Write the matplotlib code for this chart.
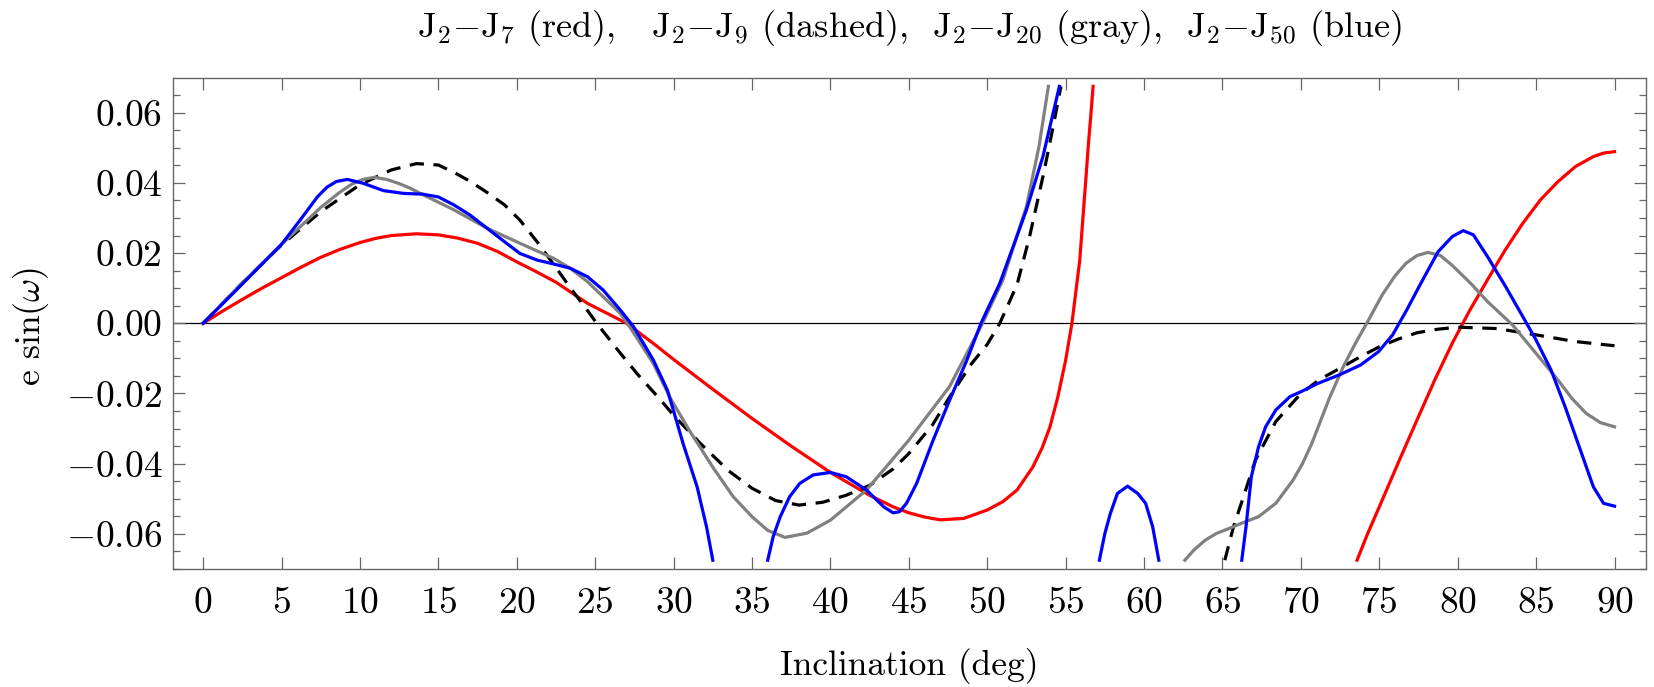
import numpy as np
import matplotlib
matplotlib.use("Agg")
import matplotlib.pyplot as plt
from matplotlib.ticker import MultipleLocator, FuncFormatter

plt.rcParams['font.family'] = 'cmr10'
plt.rcParams['mathtext.fontset'] = 'cm'
plt.rcParams['axes.formatter.use_mathtext'] = True

# J2-J7 (red), two branches
red1_x = [0, 1.25, 2.5, 3.75, 5, 6.25, 7.5, 8.75, 10, 11, 12, 13.6, 15, 16.2, 17.5, 18.8, 20, 21.2, 22.5,
          24.5, 27, 28.7, 30, 32.5, 35, 37.5, 40, 42.5, 44, 45, 46, 47, 48.5, 50, 51, 51.9, 52.9, 53.5,
          54, 54.5, 55, 55.4, 55.65, 55.9, 56.1, 56.3, 56.45, 56.6, 56.75]
red1_y = [0, 0.0035, 0.0068, 0.0100, 0.0130, 0.0160, 0.0188, 0.0211, 0.0230, 0.0242, 0.0250, 0.0255,
          0.0252, 0.0243, 0.0228, 0.0204, 0.0175, 0.0148, 0.0117, 0.0057, 0.0, -0.0057, -0.0103, -0.0188,
          -0.0271, -0.0350, -0.0425, -0.0490, -0.0523, -0.0540, -0.0552, -0.0560, -0.0556, -0.0532,
          -0.0508, -0.0475, -0.0410, -0.0355, -0.0295, -0.0210, -0.0105, 0.0, 0.0090, 0.0180, 0.0300,
          0.0418, 0.0510, 0.0590, 0.0675]
red2_x = [73.58, 74.26, 75.0, 76.28, 77.4, 78.53, 79.65, 80.78, 81.9, 83.03, 84.15, 85.28, 86.4, 87.52,
          88.65, 89.3, 90]
red2_y = [-0.0675, -0.0599, -0.0523, -0.0390, -0.0276, -0.0162, -0.0057, 0.0038, 0.0124, 0.0209, 0.0285,
          0.0352, 0.0404, 0.0447, 0.0475, 0.0485, 0.0489]

# J2-J9 (dashed)
blk1_x = [0, 2.5, 5, 7.5, 10, 12, 13.6, 15, 16, 17, 18.1, 19.2, 20.2, 21.3, 22.4, 23.4, 24.5, 25.1,
          26.6, 27.7, 29.2, 30, 31.7, 33.5, 35, 36.5, 38, 39.5, 41, 42.5, 44, 45, 46.5, 47.6, 49, 50,
          50.8, 51.9, 52.7, 53.6, 54.2, 54.7]
blk1_y = [0, 0.0115, 0.0223, 0.0318, 0.0395, 0.0437, 0.0455, 0.0451, 0.0430, 0.0405, 0.0373, 0.0338,
          0.0294, 0.0232, 0.0165, 0.0102, 0.0037, 0.0, -0.0085, -0.0145, -0.0220, -0.0262, -0.0342,
          -0.0420, -0.0470, -0.0505, -0.0518, -0.0510, -0.0490, -0.0462, -0.0415, -0.0371, -0.0290,
          -0.0210, -0.0115, -0.0060, 0.0, 0.0110, 0.0247, 0.0428, 0.0560, 0.0675]
blk2_x = [65.15, 65.7, 66.2, 67.1, 68.4, 70, 71.2, 72.5, 73.8, 75, 76.2, 77.4, 78.7, 80, 82.5, 85,
          87.5, 90]
blk2_y = [-0.0675, -0.0580, -0.0513, -0.0390, -0.0280, -0.0200, -0.0160, -0.0128, -0.0095, -0.0067,
          -0.0045, -0.0027, -0.0017, -0.0011, -0.0015, -0.0033, -0.0052, -0.0064]

# J2-J20 (gray)
gry1_x = [0, 2.5, 5, 7.5, 8.7, 9.5, 10.2, 10.9, 11.7, 12.5, 13.2, 13.85, 16, 18.1, 20.2, 22.35, 23.4,
          24.5, 25.5, 26.6, 27.2, 28.7, 29.8, 31, 32.5, 33.8, 35, 36, 37.1, 38.5, 40, 42.3, 45, 47.6,
          49.7, 51, 52.5, 53.3, 53.9]
gry1_y = [0, 0.0115, 0.0225, 0.0330, 0.0373, 0.0397, 0.0410, 0.0416, 0.0410, 0.0398, 0.0385, 0.0370,
          0.0323, 0.0271, 0.0228, 0.0185, 0.0157, 0.0119, 0.0076, 0.0028, -0.0010, -0.0114, -0.0214,
          -0.0305, -0.0410, -0.0494, -0.0551, -0.0590, -0.0610, -0.0598, -0.0561, -0.0475, -0.0333,
          -0.0180, 0.0, 0.0124, 0.0333, 0.0504, 0.0675]
gry2_x = [62.6, 63.2, 63.9, 64.6, 65.4, 66.2, 67.3, 68.4, 69.5, 70.1, 70.7, 71.8, 72.7, 73.5, 74.2,
          75.2, 76.0, 76.7, 77.4, 78.1, 78.9, 79.65, 80.8, 81.9, 83.5, 85, 86.4, 87.3, 88.2, 89.1, 90]
gry2_y = [-0.0675, -0.0645, -0.0618, -0.0599, -0.0585, -0.0570, -0.0551, -0.0513, -0.0447, -0.0400,
          -0.0342, -0.0215, -0.0124, -0.0055, 0.0, 0.0082, 0.0135, 0.0171, 0.0193, 0.0202, 0.0193,
          0.0165, 0.0115, 0.0062, -0.0005, -0.0086, -0.0162, -0.0215, -0.0257, -0.0283, -0.0295]

# J2-J50 (blue), four branches
blu1_x = [0, 2.5, 5, 6.2, 7.3, 7.9, 8.5, 9.2, 10.2, 11.5, 12.8, 14.0, 15.0, 16, 17, 18.1, 19.2, 20.2,
          21.3, 22.35, 23.4, 24.5, 25.5, 26.6, 27.45, 28.7, 29.6, 30.0, 30.6, 31.5, 32.1, 32.5]
blu1_y = [0, 0.0112, 0.0225, 0.0295, 0.0361, 0.0388, 0.0404, 0.0410, 0.0399, 0.0378, 0.0370, 0.0368,
          0.0360, 0.0337, 0.0309, 0.0271, 0.0233, 0.0199, 0.0180, 0.0169, 0.0157, 0.0133, 0.0095, 0.0038,
          -0.0010, -0.0104, -0.0190, -0.0250, -0.0342, -0.0466, -0.0580, -0.0675]
blu2_x = [36.0, 36.35, 36.8, 37.4, 38.05, 38.9, 40.0, 41.0, 42.3, 43.4, 44.0, 44.4, 44.85, 45.5, 46.55,
          47.6, 48.7, 49.6, 50.8, 52.5, 53.55, 54.6]
blu2_y = [-0.0675, -0.0608, -0.0551, -0.0494, -0.0456, -0.0432, -0.0425, -0.0437, -0.0475, -0.0523,
          -0.0540, -0.0537, -0.0513, -0.0456, -0.0333, -0.0219, -0.0105, 0.0, 0.0114, 0.0323, 0.0475, 0.0675]
blu3_x = [57.15, 57.5, 57.85, 58.3, 58.95, 59.6, 60.1, 60.55, 60.94]
blu3_y = [-0.0675, -0.0599, -0.0542, -0.0485, -0.0464, -0.0485, -0.0513, -0.0580, -0.0675]
blu4_x = [66.23, 66.5, 66.84, 67.3, 67.75, 68.4, 69.3, 70.0, 71.1, 72.45, 73.8, 74.95, 75.85, 76.75,
          77.65, 78.75, 79.65, 80.35, 81.0, 81.9, 83.05, 84.15, 85.0, 85.95, 86.85, 87.75, 88.65, 89.3, 90]
blu4_y = [-0.0675, -0.0580, -0.0437, -0.0352, -0.0295, -0.0247, -0.0209, -0.0195, -0.0171, -0.0147,
          -0.0119, -0.0081, -0.0033, 0.0038, 0.0114, 0.0204, 0.0247, 0.0264, 0.0252, 0.0190, 0.0105,
          0.0019, -0.0048, -0.0133, -0.0238, -0.0352, -0.0466, -0.0513, -0.0521]

x_ticks = np.arange(0, 91, 5)
y_ticks = [-0.06, -0.04, -0.02, 0.0, 0.02, 0.04, 0.06]

fig = plt.figure(figsize=(16.54, 6.87), dpi=100)
ax = fig.add_axes([0.1048, 0.1718, 0.8903, 0.7142])

lw = 2.3
ax.axhline(0, color='black', lw=0.9, zorder=1)
for xs, ys in [(red1_x, red1_y), (red2_x, red2_y)]:
    ax.plot(xs, ys, color='#ff0000', lw=lw, zorder=2, solid_joinstyle='round')
for xs, ys in [(blk1_x, blk1_y), (blk2_x, blk2_y)]:
    ax.plot(xs, ys, color='black', lw=lw, dashes=(4.5, 3), zorder=3)
for xs, ys in [(gry1_x, gry1_y), (gry2_x, gry2_y)]:
    ax.plot(xs, ys, color='#808080', lw=lw, zorder=4, solid_joinstyle='round')
for xs, ys in [(blu1_x, blu1_y), (blu2_x, blu2_y), (blu3_x, blu3_y), (blu4_x, blu4_y)]:
    ax.plot(xs, ys, color='#0000ff', lw=lw, zorder=5, solid_joinstyle='round')

ax.set_xlim(-1.9, 92)
ax.set_ylim(-0.07, 0.0698)
ax.set_xticks(x_ticks)
ax.set_yticks(y_ticks)
ax.yaxis.set_minor_locator(MultipleLocator(0.005))
ax.xaxis.set_major_formatter(FuncFormatter(lambda v, p: f'${v:.0f}$'))
ax.yaxis.set_major_formatter(FuncFormatter(lambda v, p: f'${v:.2f}$'.replace('-0.00', '0.00')))

for s in ax.spines.values():
    s.set_color('#666666')
    s.set_linewidth(1.0)
ax.tick_params(which='both', direction='in', top=True, right=True, color='#666666', width=0.9)
ax.tick_params(which='major', length=8.6)
ax.tick_params(which='minor', length=5)
ax.tick_params(axis='x', labelsize=27, pad=13)
ax.tick_params(axis='y', labelsize=27, pad=8)

title = (r'$\mathrm{J}_2{-}\mathrm{J}_7$ (red),   $\mathrm{J}_2{-}\mathrm{J}_9$ (dashed),  '
         r'$\mathrm{J}_2{-}\mathrm{J}_{20}$ (gray),  $\mathrm{J}_2{-}\mathrm{J}_{50}$ (blue)')
fig.text(0.55, 0.9457, title, ha='center', va='baseline', fontsize=26)
fig.text(0.55, 0.0175, 'Inclination (deg)', ha='center', va='baseline', fontsize=25.5)
fig.text(0.0187, 0.5255, r'e sin$(\omega)$', ha='center', va='center', rotation=90, fontsize=25.5)

fig.savefig('out.png', dpi=100)
